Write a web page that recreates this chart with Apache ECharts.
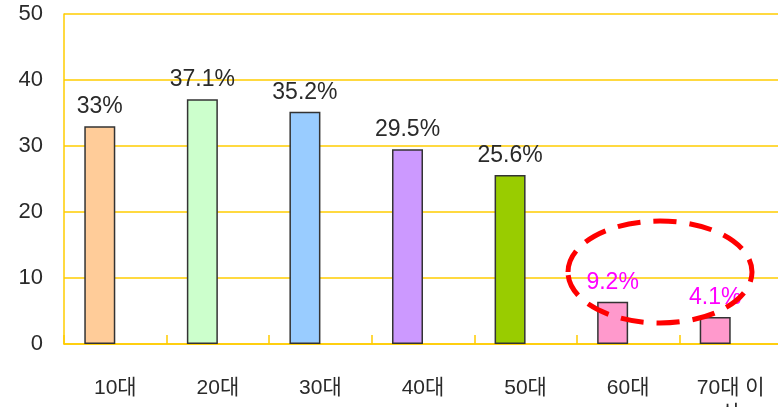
<!DOCTYPE html>
<html>
<head>
<meta charset="utf-8">
<script src="https://cdn.jsdelivr.net/npm/echarts@6/dist/echarts.min.js"></script>
<style>
  html, body { margin: 0; padding: 0; background: #fff; }
  #chart { width: 778px; height: 407px; }
</style>
</head>
<body>
<div id="chart"></div>
<script>
// age groups and the share shown on each bar
var categories = ['10대', '20대', '30대', '40대', '50대', '60대', '70대 이상'];
var barValues = [33, 37.1, 35.2, 29.5, 25.6, 6.4, 4.1];
var barLabels = ['33%', '37.1%', '35.2%', '29.5%', '25.6%', '9.2%', '4.1%'];
var barColors = ['#ffcc99', '#ccffcc', '#99ccff', '#cc99ff', '#99cc00', '#ff99cc', '#ff99cc'];
var labelColors = ['#2a2a2a', '#2a2a2a', '#2a2a2a', '#2a2a2a', '#2a2a2a', '#ff00ff', '#ff00ff'];
var yTicks = [0, 10, 20, 30, 40, 50];

var gold = '#ffcc00';
var font = '"Liberation Sans", "Noto Sans CJK KR", sans-serif';

var chart = echarts.init(document.getElementById('chart'));

var barData = barValues.map(function (v, i) {
  return {
    value: v,
    itemStyle: { color: barColors[i] },
    label: { color: labelColors[i] }
  };
});

var option = {
  animation: false,
  grid: { left: 64, top: 14, width: 718, height: 330, outerBoundsMode: 'none' },
  xAxis: {
    type: 'category',
    data: categories,
    axisLine: { lineStyle: { color: gold, width: 1.5 } },
    axisTick: { show: true, inside: true, length: 9, lineStyle: { color: gold, width: 1.5 } },
    axisLabel: {
      color: '#2a2a2a', fontSize: 21, fontFamily: font, margin: 31, lineHeight: 26,
      formatter: function (v) { return v.replace(' 이상', ' 이\n상'); }
    }
  },
  yAxis: {
    type: 'value',
    min: yTicks[0],
    max: yTicks[yTicks.length - 1],
    interval: 10,
    axisLine: { show: true, lineStyle: { color: gold, width: 1.5 } },
    axisTick: { show: false },
    axisLabel: { color: '#2a2a2a', fontSize: 22, fontFamily: font, margin: 21 },
    splitLine: { lineStyle: { color: gold, width: 1.5 } }
  },
  series: [
    {
      type: 'bar',
      data: barData,
      barWidth: 31,
      barGap: '0%',
      itemStyle: { borderColor: '#333', borderWidth: 1.5 },
      label: {
        show: true,
        position: 'top',
        distance: 8,
        fontSize: 23,
        fontFamily: font,
        formatter: function (p) { return barLabels[p.dataIndex]; }
      }
    },
    {
      // empty partner series, keeps the bars left of the category centre
      type: 'bar',
      data: categories.map(function () { return '-'; }),
      barWidth: 31
    }
  ],
  graphic: [{
    type: 'ellipse',
    shape: { cx: 660, cy: 272, rx: 92, ry: 51 },
    style: { fill: 'none', stroke: '#ff0000', lineWidth: 5, lineDash: [23, 13] },
    z: 100
  }]
};

chart.setOption(option);
</script>
</body>
</html>
